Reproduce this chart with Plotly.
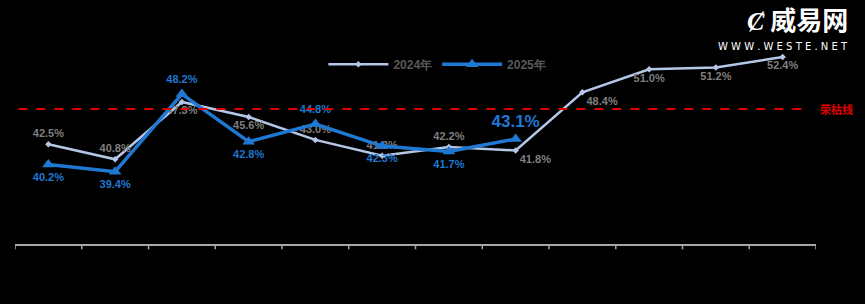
import plotly.graph_objects as go

months = ["1月", "2月", "3月", "4月", "5月", "6月", "7月", "8月", "9月", "10月", "11月", "12月"]
values_2024 = [42.5, 40.8, 47.3, 45.6, 43.0, 41.2, 42.2, 41.8, 48.4, 51.0, 51.2, 52.4]
values_2025 = [40.2, 39.4, 48.2, 42.8, 44.8, 42.3, 41.7, 43.1]
pos_2024 = ["top center", "top center", "bottom center", "bottom center", "top center", "top center",
            "top center", "bottom right", "bottom right", "bottom center", "bottom center", "bottom center"]
pos_2025 = ["bottom center", "bottom center", "top center", "bottom center", "top center", "bottom center",
            "bottom center", "top center"]
size_2025 = [11, 11, 11, 11, 11, 11, 11, 17]
threshold = [46.5]
threshold_label = "荣枯线"

x24 = list(range(len(values_2024)))
x25 = list(range(len(values_2025)))

fig = go.Figure()
fig.add_trace(go.Scatter(
    x=x24, y=values_2024, name="<b>2024年</b>", mode="lines+markers+text",
    line=dict(color="#b4c7e7", width=2.5),
    marker=dict(symbol="diamond", size=5, color="#b4c7e7"),
    text=[f"{v:.1f}%" for v in values_2024], textposition=pos_2024,
    textfont=dict(color="#7f7f7f", size=11, family="Liberation Sans"),
    texttemplate="<b>%{text}</b>",
))
fig.add_trace(go.Scatter(
    x=x25, y=values_2025, name="<b>2025年</b>", mode="lines+markers+text",
    line=dict(color="#1f78d1", width=3.5),
    marker=dict(symbol="triangle-up", size=11, color="#1f78d1"),
    text=[f"{v:.1f}%" for v in values_2025], textposition=pos_2025,
    textfont=dict(color="#1f78d1", size=size_2025, family="Liberation Sans"),
    texttemplate="<b>%{text}</b>",
))

fig.add_shape(type="line", xref="x", yref="y", x0=-0.45, x1=11.33,
              y0=threshold[0], y1=threshold[0],
              line=dict(color="#e00000", width=2, dash="dash"))
fig.add_annotation(xref="paper", yref="y", x=1.0, y=threshold[0], xanchor="left",
                   xshift=2, text=f"<b>{threshold_label}</b>", showarrow=False,
                   font=dict(color="#e00000", size=11, family="Noto Sans CJK SC"))

# watermark
fig.add_annotation(xref="paper", yref="paper", x=1.043, y=1.0, xanchor="right", yanchor="middle",
                   yshift=12, text="<b><i>Ȼ</i> 威易网</b>", showarrow=False,
                   font=dict(color="white", size=26, family="Noto Sans CJK SC"))
fig.add_annotation(xref="paper", yref="paper", x=1.043, y=1.0, xanchor="right", yanchor="middle",
                   yshift=-16, text="W W W . W E S T E . N E T", showarrow=False,
                   font=dict(color="white", size=10, family="DejaVu Sans"))

fig.update_layout(
    width=865, height=304,
    margin=dict(l=15, r=49, t=30, b=60),
    paper_bgcolor="black", plot_bgcolor="black",
    showlegend=True,
    legend=dict(orientation="h", x=0.385, y=0.84, xanchor="left", yanchor="middle",
                font=dict(color="#595959", size=12, family="Liberation Sans"),
                bgcolor="rgba(0,0,0,0)", itemwidth=60, tracegroupgap=0),
    xaxis=dict(range=[-0.5, 11.5], tickmode="array", tickvals=x24, ticktext=months,
               showgrid=False, zeroline=False, showline=True, linecolor="#a6a6a6", linewidth=1.5,
               ticks="", tickfont=dict(color="black", size=11)),
    yaxis=dict(range=[31.2, 55.46], visible=False, showgrid=False, zeroline=False),
)
for b in [i - 0.5 for i in range(len(months) + 1)]:
    fig.add_shape(type="line", xref="x", yref="paper", x0=b, x1=b, y0=0, y1=-0.025,
                  line=dict(color="#a6a6a6", width=1.5))

fig.write_html("out.html")
